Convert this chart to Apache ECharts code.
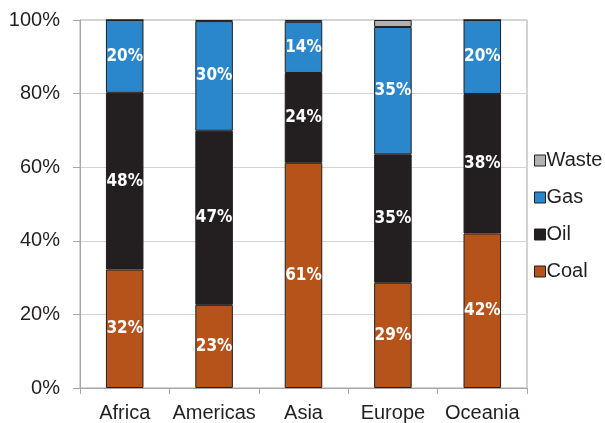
<!DOCTYPE html>
<html>
<head>
<meta charset="utf-8">
<script src="https://cdn.jsdelivr.net/npm/echarts@6/dist/echarts.min.js"></script>
<style>
  html, body { margin: 0; padding: 0; background: #fff; }
  #chart { width: 605px; height: 423px; }
</style>
</head>
<body>
<div id="chart"></div>
<script>
// Share of each fuel in primary energy supply by region (%)
const regions = ['Africa', 'Americas', 'Asia', 'Europe', 'Oceania'];
const coal  = [32.2, 22.6, 61.2, 28.6, 42.0];
const oil   = [48.0, 47.3, 24.4, 34.9, 37.9];
const gas   = [19.8, 29.8, 13.9, 34.6, 20.1];
const waste = [0.0, 0.3, 0.5, 1.9, 0.0];
const yTicks = [0, 20, 40, 60, 80, 100];

const textColor = '#231f20';
const labelFont = {
  show: true,
  position: 'inside',
  color: '#ffffff',
  fontFamily: '"DejaVu Sans Condensed", "Liberation Sans Narrow", sans-serif',
  fontWeight: 'bold',
  fontSize: 17,
  formatter: p => Math.round(p.value) + '%'
};

function barSeries(name, data, color, withLabel) {
  return {
    name: name,
    type: 'bar',
    stack: 'total',
    data: data,
    barWidth: '42%',
    itemStyle: { color: color, borderColor: '#231f20', borderWidth: 1 },
    label: withLabel ? labelFont : { show: false },
    emphasis: { disabled: true }
  };
}

const chart = echarts.init(document.getElementById('chart'), null, { renderer: 'canvas' });
chart.setOption({
  animation: false,
  textStyle: { fontFamily: '"Liberation Sans", Arial, sans-serif' },
  grid: {
    left: 80, right: 78, top: 20, bottom: 34,
    show: true, borderColor: '#a6a6a6', borderWidth: 1
  },
  legend: {
    orient: 'vertical',
    left: 529,
    top: 145,
    data: ['Waste', 'Gas', 'Oil', 'Coal'],
    icon: 'rect',
    itemWidth: 11,
    itemHeight: 11,
    itemGap: 16,
    itemStyle: { borderColor: '#231f20', borderWidth: 1 },
    textStyle: { fontSize: 20, color: textColor, lineHeight: 21, padding: [0, 0, 0, -4] }
  },
  xAxis: {
    type: 'category',
    data: regions,
    axisLine: { lineStyle: { color: '#a6a6a6', width: 1 } },
    axisTick: { show: true, length: 6, lineStyle: { color: '#a6a6a6' } },
    axisLabel: { interval: 0, fontSize: 20, color: textColor, margin: 15 }
  },
  yAxis: {
    type: 'value',
    min: yTicks[0],
    max: yTicks[yTicks.length - 1],
    interval: yTicks[1] - yTicks[0],
    axisLine: { show: true, lineStyle: { color: '#a6a6a6', width: 1 } },
    axisTick: { show: true, length: 7, lineStyle: { color: '#a6a6a6' } },
    axisLabel: { fontSize: 20, color: textColor, margin: 20, formatter: v => v + '%' },
    splitLine: { lineStyle: { color: '#d4d4d4', width: 1 } }
  },
  series: [
    barSeries('Coal', coal, '#b5531b', true),
    barSeries('Oil', oil, '#231f20', true),
    barSeries('Gas', gas, '#2b87cb', true),
    barSeries('Waste', waste, '#b1b1b3', false)
  ]
});
</script>
</body>
</html>
